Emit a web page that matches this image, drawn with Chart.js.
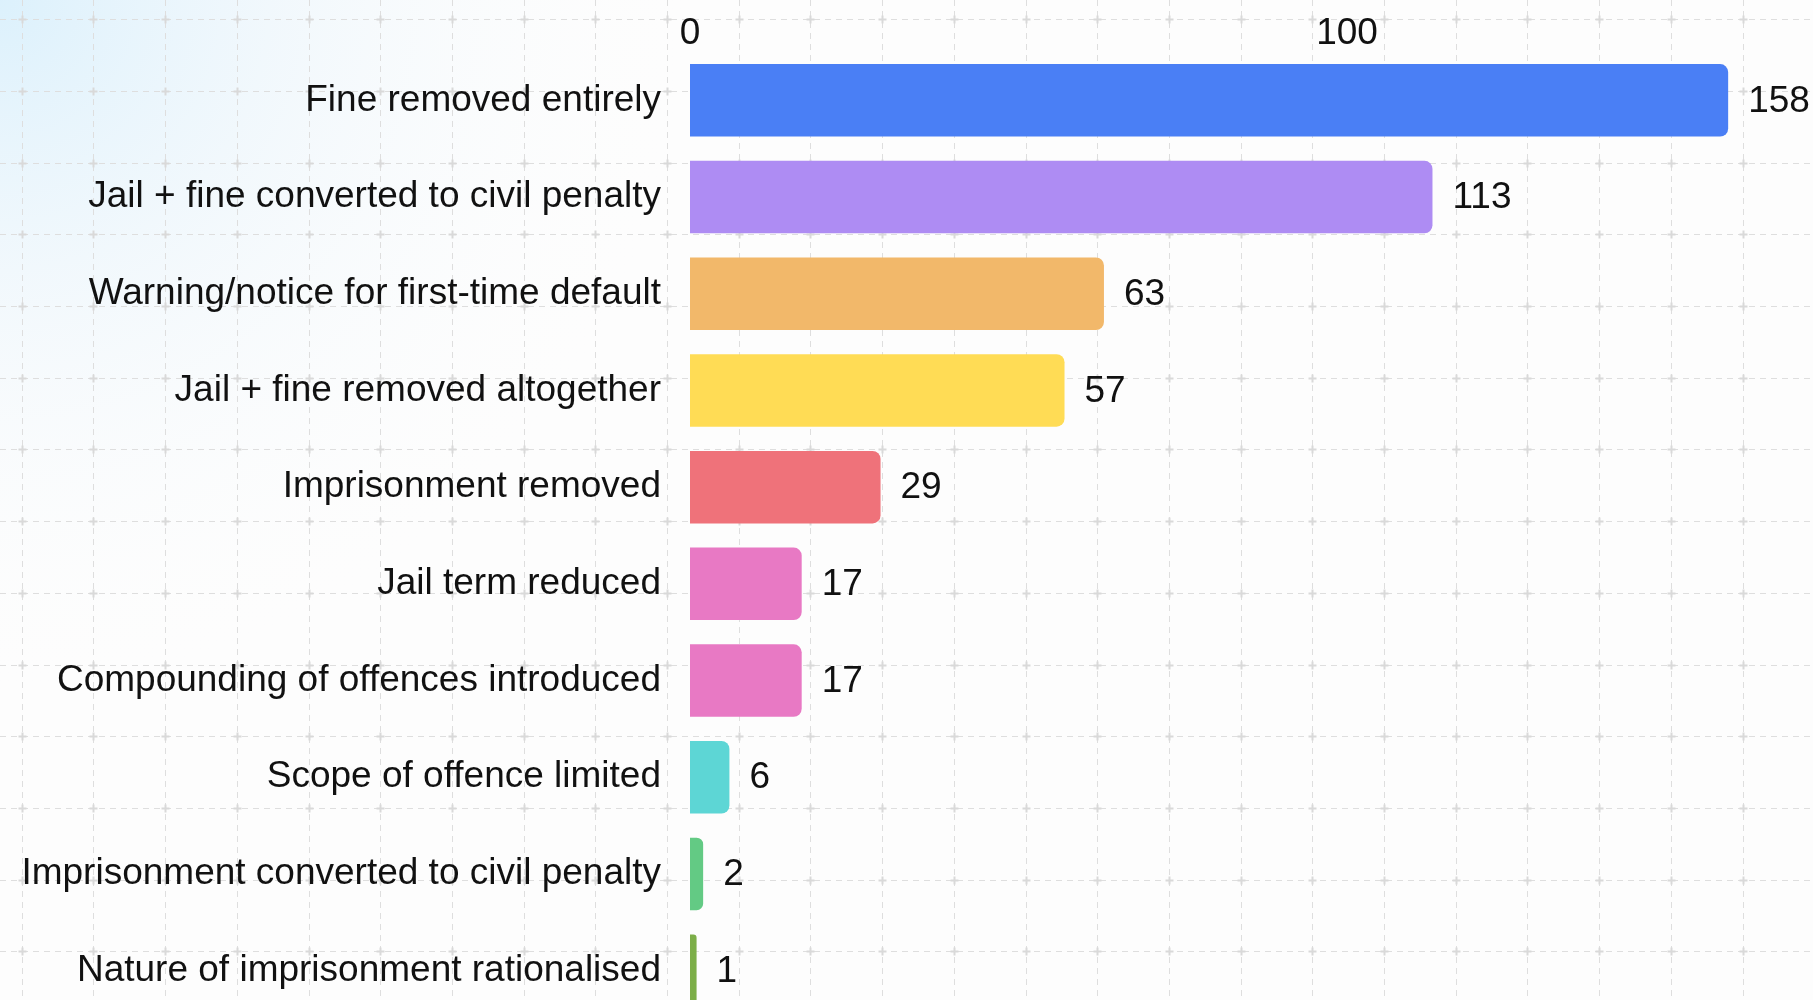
<!DOCTYPE html>
<html>
<head>
<meta charset="utf-8">
<script src="https://cdn.jsdelivr.net/npm/chart.js@4.4.1/dist/chart.umd.min.js"></script>
<style>
  html, body { margin: 0; padding: 0; overflow: hidden; background: #fdfdfd; }
  canvas { display: block; }
</style>
</head>
<body>
<canvas id="penaltyChart" width="1813" height="1019"></canvas>
<script>
const categories = [
  "Fine removed entirely",
  "Jail + fine converted to civil penalty",
  "Warning/notice for first-time default",
  "Jail + fine removed altogether",
  "Imprisonment removed",
  "Jail term reduced",
  "Compounding of offences introduced",
  "Scope of offence limited",
  "Imprisonment converted to civil penalty",
  "Nature of imprisonment rationalised"
];
const counts = [158, 113, 63, 57, 29, 17, 17, 6, 2, 1];
const barColors = [
  "#4a7ff5", "#ae8cf3", "#f2b86a", "#ffdc55", "#ef727a",
  "#e879c4", "#e879c4", "#5dd6d5", "#63ca84", "#7cae48"
];
const tickValues = [0, 100];

const FONT = "'Liberation Sans', Arial, Helvetica, sans-serif";

// page background: soft blue wash top-left + dashed grid with small crosses
const backdrop = {
  id: 'backdrop',
  beforeDraw(chart) {
    const ctx = chart.ctx;
    const w = chart.width, h = chart.height;
    ctx.save();
    ctx.fillStyle = '#fdfdfd';
    ctx.fillRect(0, 0, w, h);
    const g = ctx.createRadialGradient(0, 0, 0, 0, 0, 700);
    g.addColorStop(0, 'rgba(218,240,252,0.95)');
    g.addColorStop(0.4, 'rgba(234,245,252,0.6)');
    g.addColorStop(1, 'rgba(253,253,253,0)');
    ctx.fillStyle = g;
    ctx.fillRect(0, 0, w, h);

    const step = 71.7, ox = 21.7, oy = 19.3;
    ctx.strokeStyle = '#dedede';
    ctx.lineWidth = 1;
    ctx.setLineDash([6, 5]);
    for (let x = ox; x < w; x += step) {
      ctx.beginPath();
      ctx.moveTo(Math.round(x) + 0.5, 0);
      ctx.lineTo(Math.round(x) + 0.5, h);
      ctx.stroke();
    }
    for (let y = oy; y < h; y += step) {
      ctx.beginPath();
      ctx.moveTo(0, Math.round(y) + 0.5);
      ctx.lineTo(w, Math.round(y) + 0.5);
      ctx.stroke();
    }
    ctx.setLineDash([]);
    ctx.strokeStyle = '#d9d9d9';
    ctx.lineWidth = 2;
    for (let x = ox; x < w; x += step) {
      for (let y = oy; y < h; y += step) {
        const cx = Math.round(x) + 0.5, cy = Math.round(y) + 0.5;
        ctx.beginPath();
        ctx.moveTo(cx - 4, cy); ctx.lineTo(cx + 4, cy);
        ctx.moveTo(cx, cy - 4); ctx.lineTo(cx, cy + 4);
        ctx.stroke();
      }
    }
    ctx.restore();
  }
};

// numbers at the end of each bar
const valueLabels = {
  id: 'valueLabels',
  afterDatasetsDraw(chart) {
    const ctx = chart.ctx;
    ctx.save();
    ctx.font = '37px ' + FONT;
    ctx.fillStyle = '#111';
    ctx.textAlign = 'left';
    ctx.textBaseline = 'middle';
    chart.getDatasetMeta(0).data.forEach((bar, i) => {
      ctx.fillText(String(counts[i]), bar.x + 20, bar.y + 1);
    });
    ctx.restore();
  }
};

new Chart(document.getElementById('penaltyChart'), {
  type: 'bar',
  data: {
    labels: categories,
    datasets: [{
      data: counts,
      backgroundColor: barColors,
      borderRadius: 8,
      borderSkipped: 'start',
      barPercentage: 0.75,
      categoryPercentage: 1
    }]
  },
  options: {
    indexAxis: 'y',
    responsive: false,
    animation: false,
    layout: { padding: { left: 0, right: 6, top: 0, bottom: 0 } },
    plugins: {
      legend: { display: false },
      tooltip: { enabled: false }
    },
    scales: {
      x: {
        position: 'top',
        min: 0,
        max: 170,
        afterBuildTicks: s => { s.ticks = tickValues.map(v => ({ value: v })); },
        afterFit: s => { s.height = 52; s.paddingLeft = 0; s.paddingRight = 0; },
        grid: { display: false, drawTicks: false },
        border: { display: false },
        ticks: {
          color: '#111',
          padding: 0,
          font: { family: FONT, size: 37, lineHeight: 1 }
        }
      },
      y: {
        afterFit: s => { s.width = 690; s.paddingTop = 0; s.paddingBottom = 0; },
        grid: { display: false, drawTicks: false },
        border: { display: false },
        ticks: {
          color: '#111',
          padding: 29,
          font: { family: FONT, size: 37 }
        }
      }
    }
  },
  plugins: [backdrop, valueLabels]
});
</script>
</body>
</html>
